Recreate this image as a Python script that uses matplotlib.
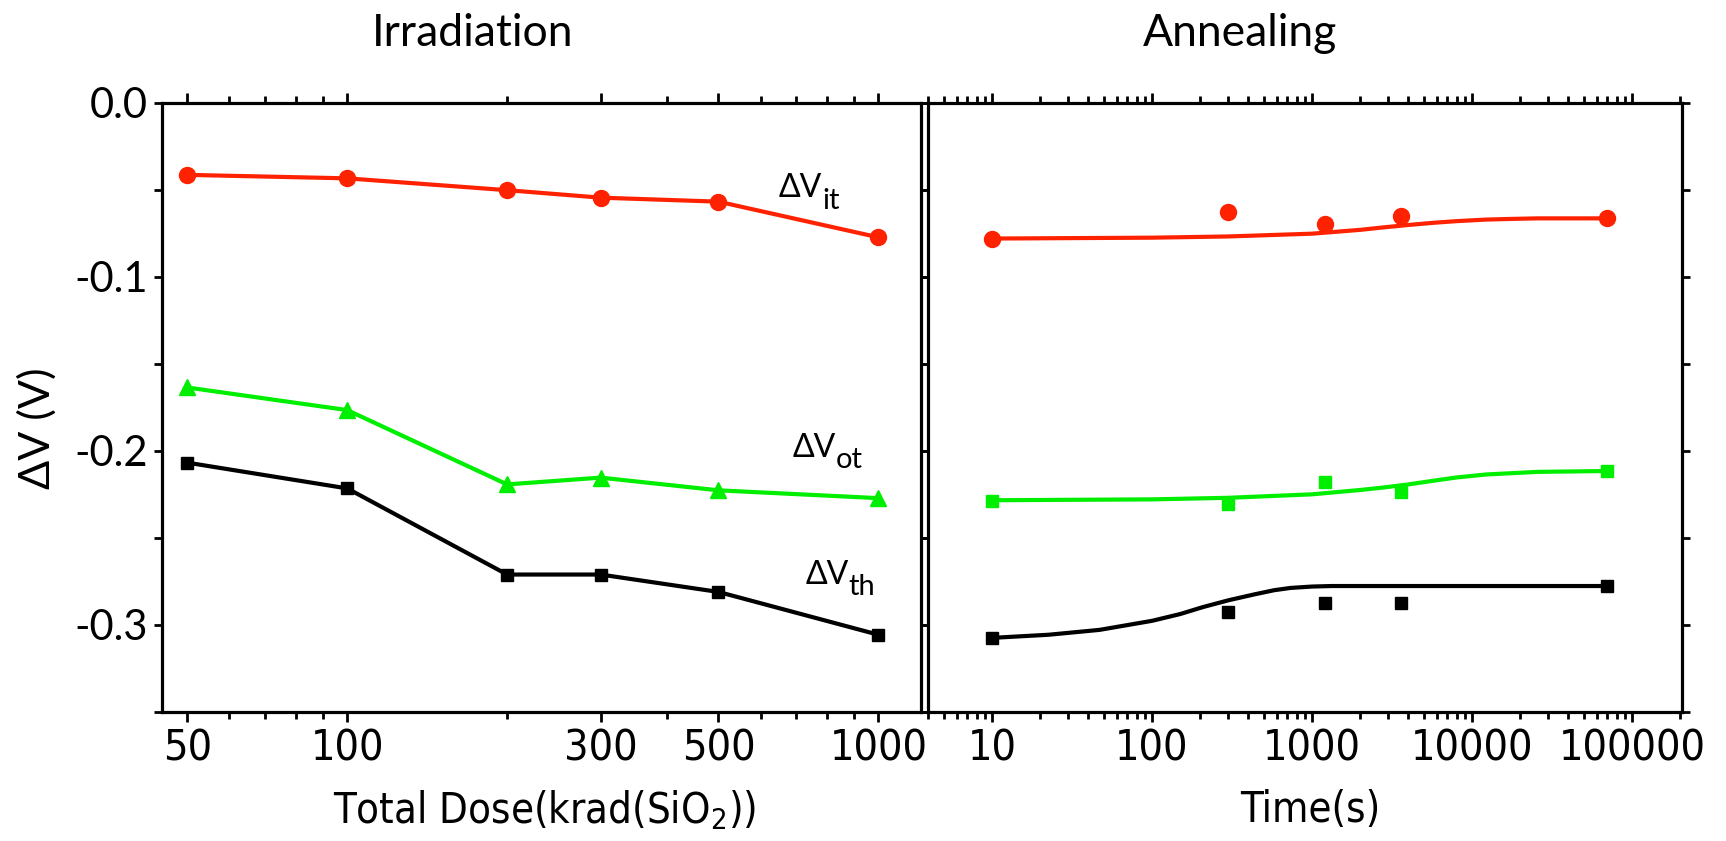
import matplotlib
matplotlib.use("Agg")
import matplotlib.pyplot as plt
from matplotlib import font_manager
from matplotlib.ticker import FixedLocator, FixedFormatter, NullFormatter, LogLocator

# --- data ---
dose = [50, 100, 200, 300, 500, 1000]
irr_it = [-0.0413, -0.0433, -0.0501, -0.0544, -0.0567, -0.0772]
irr_ot = [-0.1635, -0.1765, -0.2192, -0.2153, -0.2226, -0.2271]
irr_th = [-0.2067, -0.2215, -0.2710, -0.2710, -0.2810, -0.3056]

anneal_t = [10, 300, 1200, 3600, 70000]
ann_it = [-0.0779, -0.0627, -0.0694, -0.0647, -0.0663]
ann_ot = [-0.2290, -0.2306, -0.2180, -0.2233, -0.2113]
ann_th = [-0.3074, -0.2926, -0.2876, -0.2876, -0.2776]

# fitted curves
fit_it_t = [10, 100, 300, 1000, 2000, 2780, 4000, 5820, 8000, 12200, 18000, 25600, 70000]
fit_it_v = [-0.0779, -0.0774, -0.0767, -0.0751, -0.0729, -0.0715, -0.0701, -0.0688,
            -0.0679, -0.0670, -0.0666, -0.0663, -0.0663]
fit_ot_t = [10, 100, 300, 1000, 2000, 2780, 4000, 5820, 8000, 12200, 25600, 70000]
fit_ot_v = [-0.2283, -0.2278, -0.2269, -0.2249, -0.2224, -0.2210, -0.2192, -0.2170,
            -0.2152, -0.2135, -0.2120, -0.2115]
fit_th_t = [10, 22.6, 47, 100, 150, 208, 300, 436, 580, 733, 1000, 1324, 5820, 70000]
fit_th_v = [-0.3074, -0.3056, -0.3028, -0.2976, -0.2937, -0.2897, -0.2858, -0.2824,
            -0.2800, -0.2787, -0.2779, -0.2776, -0.2776, -0.2776]

dose_ticks = [50, 100, 300, 500, 1000]
dose_minor = [60, 70, 80, 90, 200, 400, 600, 700, 800, 900]
time_ticks = [10, 100, 1000, 10000, 100000]
y_ticks = [0.0, -0.1, -0.2, -0.3]
y_minor = [-0.05, -0.15, -0.25, -0.35]

labels = [("ΔV", "it", 650, -0.049), ("ΔV", "ot", 689, -0.198), ("ΔV", "th", 728, -0.271)]

RED = "#ff2200"
GREEN = "#00ee00"
BLACK = "black"

# look for a condensed sans face for the x axis texts
narrow_family, narrow_stretch, narrow_size, xlab_size = "Lato", "normal", 28, 30
for f in font_manager.fontManager.ttflist:
    cond = f.stretch in ("condensed", "semi-condensed", "extra-condensed") \
        or "Condensed" in f.name or "Narrow" in f.name
    if cond and f.style == "normal" and f.weight in (400, "normal", "regular"):
        if "Mono" in f.name or "Serif" in f.name:
            continue
        narrow_family, narrow_stretch, narrow_size, xlab_size = f.name, f.stretch, 31, 30
        break

plt.rcParams["font.family"] = ["Lato", "DejaVu Sans"]
plt.rcParams["axes.unicode_minus"] = False

fig = plt.figure(figsize=(17.26, 8.41), dpi=100)
ax1 = fig.add_axes([162 / 1726, 1 - 712 / 841, 759 / 1726, 609 / 841])
ax2 = fig.add_axes([928 / 1726, 1 - 712 / 841, 754 / 1726, 609 / 841])

lw = 3
ax1.plot(dose, irr_it, "-o", color=RED, lw=lw, ms=11.5)
ax1.plot(dose, irr_ot, "-^", color=GREEN, lw=lw, ms=12)
ax1.plot(dose, irr_th, "-s", color=BLACK, lw=lw, ms=9)

ax2.plot(fit_it_t, fit_it_v, "-", color=RED, lw=lw)
ax2.plot(fit_ot_t, fit_ot_v, "-", color=GREEN, lw=lw)
ax2.plot(fit_th_t, fit_th_v, "-", color=BLACK, lw=lw)
ax2.plot(anneal_t, ann_it, "o", color=RED, ms=11.5)
ax2.plot(anneal_t, ann_ot, "s", color=GREEN, ms=9)
ax2.plot(anneal_t, ann_th, "s", color=BLACK, ms=9)

ax1.set_xscale("log")
ax1.set_xlim(44.8, 1203)
ax2.set_xscale("log")
ax2.set_xlim(3.98, 2.05e5)
for ax in (ax1, ax2):
    ax.set_ylim(-0.35, 0.0)
    for s in ax.spines.values():
        s.set_linewidth(2.3)
    ax.yaxis.set_major_locator(FixedLocator(y_ticks))
    ax.yaxis.set_minor_locator(FixedLocator(y_minor))
    ax.tick_params(which="both", direction="out", width=2, top=True, right=True,
                   labeltop=False, labelright=False)
    ax.tick_params(axis="y", which="both", length=6)
    ax.tick_params(axis="x", which="major", length=7)
    ax.tick_params(axis="x", which="minor", length=5)

ax1.xaxis.set_major_locator(FixedLocator(dose_ticks))
ax1.xaxis.set_major_formatter(FixedFormatter([str(v) for v in dose_ticks]))
ax1.xaxis.set_minor_locator(FixedLocator(dose_minor))
ax1.xaxis.set_minor_formatter(NullFormatter())
ax2.xaxis.set_major_locator(FixedLocator(time_ticks))
ax2.xaxis.set_major_formatter(FixedFormatter([str(v) for v in time_ticks]))
ax2.xaxis.set_minor_locator(LogLocator(base=10, subs=range(2, 10)))
ax2.xaxis.set_minor_formatter(NullFormatter())

ax1.yaxis.set_major_formatter(FixedFormatter(["%.1f" % v for v in y_ticks]))
ax1.tick_params(axis="y", labelsize=30, pad=4)
ax2.tick_params(axis="y", labelleft=False)
for ax in (ax1, ax2):
    ax.tick_params(axis="x", labelsize=narrow_size, pad=4)
    for lab in ax.get_xticklabels():
        lab.set_family([narrow_family, "DejaVu Sans"])
        lab.set_stretch(narrow_stretch)

fig.text(473 / 1726, 1 - 33 / 841, "Irradiation", fontsize=32, ha="center", va="center")
fig.text(1240 / 1726, 1 - 33 / 841, "Annealing", fontsize=32, ha="center", va="center")
fig.text(545 / 1726, 1 - 810 / 841, r"Total Dose(krad(SiO$\mathregular{_2}$))", fontsize=xlab_size,
         ha="center", va="center", family=[narrow_family, "DejaVu Sans"], stretch=narrow_stretch)
fig.text(1310 / 1726, 1 - 810 / 841, "Time(s)", fontsize=xlab_size, ha="center", va="center",
         family=[narrow_family, "DejaVu Sans"], stretch=narrow_stretch)
fig.text(37 / 1726, 1 - 428 / 841, "ΔV (V)", fontsize=31, rotation=90, ha="center", va="center")

for main, sub, x, y in labels:
    t = ax1.text(x, y, main, fontsize=23, va="center", ha="left")
    ax1.annotate(sub, xy=(1.0, 0.52), xycoords=t, fontsize=21, va="top", ha="left")

fig.savefig("out.png", dpi=100, facecolor="white")
